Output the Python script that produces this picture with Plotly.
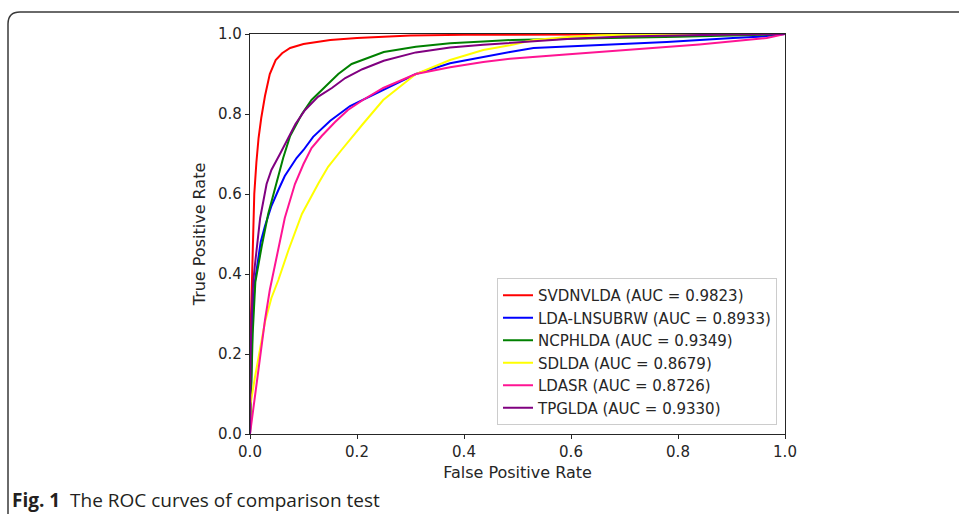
import plotly.graph_objects as go

# ---- data ----
names = ["SVDNVLDA", "LDA-LNSUBRW", "NCPHLDA", "SDLDA", "LDASR", "TPGLDA"]
aucs = ["0.9823", "0.8933", "0.9349", "0.8679", "0.8726", "0.9330"]
colors = ["#ff0000", "#0000ff", "#008000", "#ffff00", "#ff1493", "#800080"]

fpr_svdnvlda = [0, 0.002, 0.005, 0.008, 0.012, 0.016, 0.021, 0.028, 0.037, 0.048, 0.06, 0.075, 0.1, 0.15, 0.2, 0.3, 0.4, 0.6, 1.0]
tpr_svdnvlda = [0, 0.30, 0.45, 0.60, 0.68, 0.74, 0.79, 0.845, 0.90, 0.935, 0.952, 0.965, 0.975, 0.985, 0.99, 0.996, 0.998, 0.999, 1.0]

fpr_lnsubrw = [0, 0.002, 0.005, 0.009, 0.013, 0.02, 0.028, 0.04, 0.053, 0.065, 0.087, 0.1, 0.118, 0.15, 0.187, 0.249, 0.31, 0.374, 0.436, 0.486, 0.53, 0.654, 0.779, 0.903, 0.95, 1.0]
tpr_lnsubrw = [0, 0.15, 0.30, 0.38, 0.42, 0.48, 0.52, 0.57, 0.61, 0.645, 0.69, 0.71, 0.743, 0.783, 0.82, 0.86, 0.90, 0.927, 0.943, 0.955, 0.965, 0.973, 0.98, 0.99, 0.993, 1.0]

fpr_ncphlda = [0, 0.002, 0.005, 0.01, 0.015, 0.022, 0.034, 0.05, 0.062, 0.075, 0.097, 0.115, 0.14, 0.165, 0.19, 0.25, 0.31, 0.374, 0.436, 0.49, 0.6, 0.7, 0.8, 0.9, 1.0]
tpr_ncphlda = [0, 0.10, 0.25, 0.38, 0.42, 0.47, 0.55, 0.63, 0.69, 0.745, 0.80, 0.835, 0.868, 0.90, 0.925, 0.955, 0.968, 0.977, 0.981, 0.985, 0.988, 0.99, 0.993, 0.996, 1.0]

fpr_sdlda = [0, 0.001, 0.009, 0.019, 0.028, 0.04, 0.053, 0.072, 0.097, 0.128, 0.146, 0.171, 0.187, 0.211, 0.249, 0.31, 0.374, 0.436, 0.486, 0.53, 0.6, 0.654, 0.75, 1.0]
tpr_sdlda = [0, 0.075, 0.14, 0.215, 0.28, 0.34, 0.385, 0.46, 0.55, 0.627, 0.668, 0.71, 0.735, 0.775, 0.835, 0.90, 0.935, 0.96, 0.972, 0.985, 0.993, 0.997, 0.999, 1.0]

fpr_ldasr = [0, 0.009, 0.019, 0.028, 0.037, 0.045, 0.052, 0.065, 0.084, 0.1, 0.115, 0.134, 0.159, 0.183, 0.211, 0.249, 0.31, 0.374, 0.436, 0.486, 0.59, 0.716, 0.84, 0.966, 1.0]
tpr_ldasr = [0, 0.09, 0.19, 0.285, 0.36, 0.41, 0.46, 0.54, 0.625, 0.675, 0.715, 0.745, 0.78, 0.81, 0.835, 0.865, 0.90, 0.917, 0.93, 0.938, 0.949, 0.961, 0.974, 0.99, 1.0]

fpr_tpglda = [0, 0.001, 0.003, 0.006, 0.009, 0.0125, 0.019, 0.031, 0.04, 0.056, 0.071, 0.085, 0.103, 0.127, 0.153, 0.178, 0.21, 0.25, 0.31, 0.374, 0.436, 0.49, 0.6, 0.7, 0.8, 0.9, 1.0]
tpr_tpglda = [0, 0.20, 0.30, 0.38, 0.42, 0.46, 0.54, 0.625, 0.66, 0.70, 0.74, 0.775, 0.81, 0.843, 0.865, 0.89, 0.912, 0.933, 0.954, 0.966, 0.973, 0.978, 0.988, 0.994, 0.997, 0.999, 1.0]

fprs = [fpr_svdnvlda, fpr_lnsubrw, fpr_ncphlda, fpr_sdlda, fpr_ldasr, fpr_tpglda]
tprs = [tpr_svdnvlda, tpr_lnsubrw, tpr_ncphlda, tpr_sdlda, tpr_ldasr, tpr_tpglda]

tick_vals = [0.0, 0.2, 0.4, 0.6, 0.8, 1.0]
caption_bold = "Fig. 1"
caption_text = "The ROC curves of comparison test"

# ---- figure ----
W, H = 959, 514
ML, MR, MT, MB = 250, 174, 34, 80
PW, PH = W - ML - MR, H - MT - MB


def px_x(p):
    return (p - ML) / PW


def px_y(p):
    return (H - MB - p) / PH


fig = go.Figure()
for n, a, c, fx, ty in zip(names, aucs, colors, fprs, tprs):
    fig.add_trace(go.Scatter(
        x=fx, y=ty, mode="lines", name=f"{n} (AUC = {a})",
        line=dict(color=c, width=2),
    ))

axis_common = dict(
    range=[0, 1], tickvals=tick_vals, tickformat=".1f",
    showgrid=False, zeroline=False, showline=True, mirror=True,
    linecolor="#262626", linewidth=1.3, ticks="outside", ticklen=4,
    tickcolor="#262626", tickwidth=1.2,
    tickfont=dict(family="DejaVu Sans", size=15, color="#262626"),
    title_font=dict(family="DejaVu Sans", size=16, color="#262626"),
)
fig.update_xaxes(**axis_common, title_text="False Positive Rate", title_standoff=6)
fig.update_yaxes(**axis_common, title_text="True Positive Rate", title_standoff=8)

# frame around the figure (rounded top-left corner)
x0, yt = px_x(8), px_y(12)
xr, yb = px_x(975), px_y(540)
rx, ry = 12 / PW, 12 / PH
fig.add_shape(
    type="path", xref="paper", yref="paper",
    path=f"M {x0},{yb} L {x0},{yt - ry} Q {x0},{yt} {x0 + rx},{yt} L {xr},{yt}",
    line=dict(color="#3a3a3a", width=1.5),
)

fig.add_annotation(
    xref="paper", yref="paper", x=px_x(10), y=px_y(500),
    xanchor="left", yanchor="middle", showarrow=False,
    text=f"<b>{caption_bold}</b>\u00a0\u00a0{caption_text}",
    font=dict(family="Open Sans", size=19, color="#231f20"),
)

fig.update_layout(
    width=W, height=H, autosize=False,
    margin=dict(l=ML, r=MR, t=MT, b=MB),
    paper_bgcolor="white", plot_bgcolor="white",
    showlegend=True,
    legend=dict(
        x=px_x(777), y=px_y(425), xanchor="right", yanchor="bottom",
        bgcolor="rgba(255,255,255,0.9)", bordercolor="#cccccc", borderwidth=1,
        font=dict(family="DejaVu Sans", size=15, color="#262626"),
        tracegroupgap=0, itemwidth=30,
    ),
)

fig.write_html(
    "out.html",
    config={"displayModeBar": False},
    post_script="document.body.style.margin='0';document.body.style.overflow='hidden';",
)
